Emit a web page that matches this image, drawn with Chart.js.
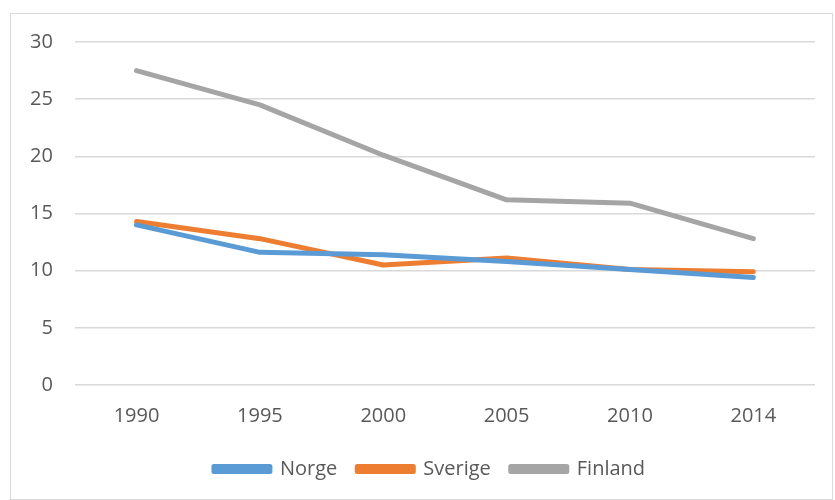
<!DOCTYPE html>
<html>
<head>
<meta charset="utf-8">
<script src="https://cdn.jsdelivr.net/npm/chart.js@4"></script>
<style>
  body { margin: 0; background: #fff; }
  #wrap { position: relative; width: 835px; height: 500px; }
  #frame { position: absolute; left: 10px; top: 13px; width: 823px; height: 487px; border: 1px solid #d9d9d9; box-sizing: border-box; pointer-events: none; }
</style>
</head>
<body>
<div id="wrap">
  <canvas id="chart" width="835" height="500"></canvas>
  <div id="frame"></div>
</div>
<script>
const years = ["1990", "1995", "2000", "2005", "2010", "2014"];
const norge = [14.0, 11.6, 11.4, 10.8, 10.1, 9.4];
const sverige = [14.3, 12.8, 10.5, 11.1, 10.1, 9.9];
const finland = [27.5, 24.5, 20.1, 16.2, 15.9, 12.8];

const FONT = "'Open Sans', sans-serif";
const TEXT = '#595959';

function series(label, data, color) {
  return {
    label: label,
    data: data,
    borderColor: color,
    backgroundColor: color,
    borderWidth: 5,
    borderCapStyle: 'round',
    borderJoinStyle: 'round',
    pointRadius: 0,
    tension: 0
  };
}

// nudge the legend a bit right, excel centres it on the frame
const legendShift = {
  id: 'legendShift',
  afterLayout(chart) {
    chart.legend.left += 18;
    chart.legend.right += 18;
  }
};

new Chart(document.getElementById('chart').getContext('2d'), {
  type: 'line',
  data: {
    labels: years,
    datasets: [
      series('Norge', norge, '#5b9bd5'),
      series('Sverige', sverige, '#ed7d31'),
      series('Finland', finland, '#a5a5a5')
    ]
  },
  plugins: [legendShift],
  options: {
    responsive: false,
    animation: false,
    layout: { padding: { left: 8, right: 20, top: 42, bottom: 11 } },
    plugins: {
      tooltip: { enabled: false },
      legend: {
        position: 'bottom',
        labels: {
          boxWidth: 56,
          boxHeight: 5,
          padding: 20,
          color: TEXT,
          font: { family: FONT, size: 20 }
        }
      }
    },
    scales: {
      x: {
        offset: true,
        grid: { display: false },
        border: { display: false },
        ticks: { color: TEXT, font: { family: FONT, size: 20 }, padding: 11 }
      },
      y: {
        min: 0,
        max: 30,
        ticks: { stepSize: 5, color: TEXT, font: { family: FONT, size: 20 }, padding: 22 },
        grid: { color: '#d9d9d9', lineWidth: 1.5, drawTicks: false },
        border: { display: false }
      }
    }
  }
});
</script>
</body>
</html>
